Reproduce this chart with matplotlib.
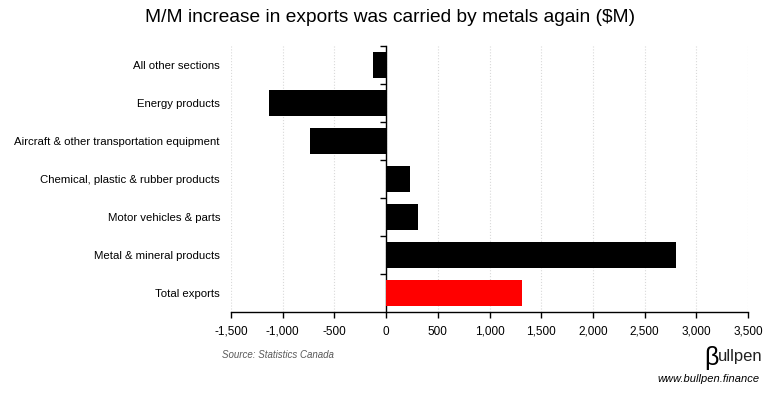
import matplotlib
matplotlib.use("Agg")
import matplotlib.pyplot as plt
import matplotlib.transforms as mtransforms

# data (M/M change in exports, $M), top to bottom as drawn
categories = ["All other sections",
              "Energy products",
              "Aircraft & other transportation equipment",
              "Chemical, plastic & rubber products",
              "Motor vehicles & parts",
              "Metal & mineral products",
              "Total exports"]
values = [-130, -1130, -735, 230, 305, 2805, 1315]
bar_colors = ["black"] * 6 + ["#ff0000"]
x_ticks = [-1500, -1000, -500, 0, 500, 1000, 1500, 2000, 2500, 3000, 3500]

plt.rcParams['font.family'] = ['Liberation Sans', 'DejaVu Sans']

fig = plt.figure(figsize=(7.81, 3.98), dpi=100)
ax = fig.add_axes([231 / 781, 1 - 312 / 398, 517 / 781, 266 / 398])

ypos = list(range(len(categories)))[::-1]
ax.barh(ypos, values, height=0.66, color=bar_colors, zorder=3)

ax.set_xlim(-1500, 3500)
ax.set_ylim(-0.5, len(categories) - 0.5)
ax.set_xticks(x_ticks)
ax.set_xticklabels([f"{t:,}" for t in x_ticks], fontsize=8.5)
ax.tick_params(axis='x', length=4, width=1, direction='out', pad=6)
ax.grid(axis='x', color='#d9d9d9', linestyle=':', linewidth=0.8, zorder=0)

# y axis sits at zero, ticks between categories
ax.spines['left'].set_position(('data', 0))
for s in ['top', 'right']:
    ax.spines[s].set_visible(False)
ax.spines['bottom'].set_linewidth(1)
ax.spines['left'].set_linewidth(1)
ax.set_yticks([i + 0.5 for i in range(len(categories))])
ax.set_yticklabels([])
ax.tick_params(axis='y', length=4, width=1, direction='out')

# category labels at the left edge of the figure
trans = mtransforms.blended_transform_factory(fig.transFigure, ax.transData)
for y, name in zip(ypos, categories):
    fig.text(220 / 781, y - 0.03, name, transform=trans, ha='right', va='center', fontsize=8.2)

fig.text(0.5, 1 - 18 / 398, "M/M increase in exports was carried by metals again ($M)",
         ha='center', va='center', fontsize=13.8)
fig.text(222 / 781, 1 - 355 / 398, "Source: Statistics Canada", ha='left', va='center',
         fontsize=7, style='italic', color='#595959')

# logo and url
fig.text(704 / 781, 1 - 358 / 398, "β", ha='left', va='center', fontsize=18, color='black')
fig.text(718 / 781, 1 - 356 / 398, "ullpen", ha='left', va='center', fontsize=12, color='#222222')
fig.text(760 / 781, 1 - 379 / 398, "www.bullpen.finance", ha='right', va='center',
         fontsize=8, style='italic', color='black')

fig.savefig("out.png", dpi=100)
